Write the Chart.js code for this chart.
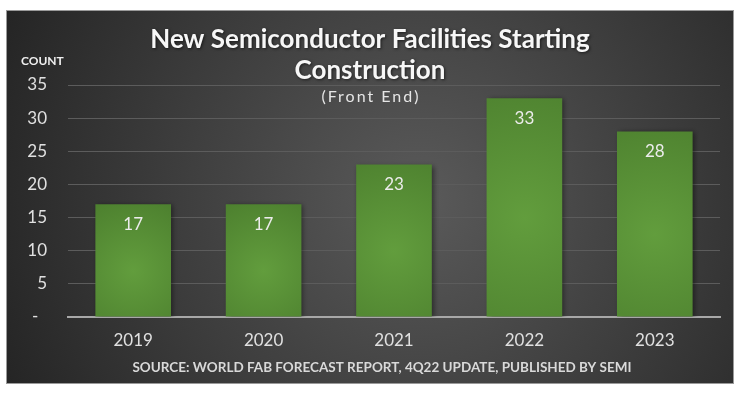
<!DOCTYPE html>
<html>
<head>
<meta charset="utf-8">
<title>New Semiconductor Facilities Starting Construction</title>
<script src="https://cdn.jsdelivr.net/npm/chart.js@4"></script>
<style>
    html, body { margin: 0; padding: 0; background: #fff; }
    canvas { display: block; }
</style>
</head>
<body>
<canvas id="myChart" width="740" height="397"></canvas>
<script>
// Datos del grafico
const years = ['2019', '2020', '2021', '2022', '2023'];
const counts = [17, 17, 23, 33, 28];
const yMax = 35;
const yStep = 5;

// Textos
const titleLines = ['New Semiconductor Facilities Starting', 'Construction'];
const subtitleText = '(Front End)';
const axisLabel = 'COUNT';
const sourceText = 'SOURCE: WORLD FAB FORECAST REPORT, 4Q22 UPDATE, PUBLISHED BY SEMI';

const fontFamily = 'Lato, "Open Sans", sans-serif';
const ctx = document.getElementById('myChart');

// Fondo oscuro con degradado radial
const panelBackground = {
    id: 'panelBackground',
    beforeDraw: (chart) => {
        const c = chart.ctx;
        c.save();
        c.fillStyle = '#fff';
        c.fillRect(0, 0, chart.width, chart.height);
        const g = c.createRadialGradient(420, 200, 0, 420, 200, 460);
        g.addColorStop(0, '#5a5a5a');
        g.addColorStop(1, '#242424');
        c.fillStyle = g;
        c.fillRect(7, 11, 726, 372);
        c.strokeStyle = '#9a9a9a';
        c.lineWidth = 1;
        c.strokeRect(6.5, 10.5, 727, 373);
        c.restore();
    }
};

// Sombra de las barras
const barShadow = {
    id: 'barShadow',
    beforeDatasetsDraw: (chart) => {
        const c = chart.ctx;
        c.save();
        c.shadowColor = 'rgba(0,0,0,0.45)';
        c.shadowBlur = 5;
        c.shadowOffsetX = 2;
        c.shadowOffsetY = 1;
    },
    afterDatasetsDraw: (chart) => {
        chart.ctx.restore();
    }
};

// Titulos, etiquetas y fuente
const annotations = {
    id: 'annotations',
    afterDraw: (chart) => {
        const c = chart.ctx;
        c.save();
        c.textAlign = 'center';
        c.textBaseline = 'middle';

        // etiquetas de valores
        const meta = chart.getDatasetMeta(0);
        c.fillStyle = '#ececec';
        c.font = `17px ${fontFamily}`;
        meta.data.forEach((bar, i) => {
            c.fillText(String(counts[i]), bar.x, bar.y + 20);
        });

        // titulo
        c.shadowColor = 'rgba(0,0,0,0.6)';
        c.shadowBlur = 3;
        c.shadowOffsetX = 1;
        c.shadowOffsetY = 1;
        c.fillStyle = '#f7f7f7';
        c.font = `bold 26px ${fontFamily}`;
        titleLines.forEach((line, i) => c.fillText(line, 370, 40 + i * 31));
        c.shadowColor = 'transparent';

        c.font = `16px ${fontFamily}`;
        c.letterSpacing = '2px';
        c.fillStyle = '#e6e6e6';
        c.fillText(subtitleText, 371, 97);
        c.letterSpacing = '0px';

        c.textAlign = 'left';
        c.font = `bold 12px ${fontFamily}`;
        c.fillStyle = '#f0f0f0';
        c.fillText(axisLabel, 21, 61);

        c.textAlign = 'center';
        c.font = `bold 13.5px ${fontFamily}`;
        c.fillStyle = '#d9d9d9';
        c.fillText(sourceText, 382, 368);
        c.restore();
    }
};

const barColor = (context) => {
    const chart = context.chart;
    const { x, y } = chart.scales;
    if (!chart.chartArea || context.dataIndex === undefined || !x || !y) return '#5a9339';
    const cx = x.getPixelForValue(context.dataIndex);
    const top = y.getPixelForValue(counts[context.dataIndex]);
    const bottom = y.getPixelForValue(0);
    const cy = (top + bottom) / 2 + 10;
    const g = chart.ctx.createRadialGradient(cx, cy, 0, cx, cy, Math.max(50, (bottom - top) * 0.7));
    g.addColorStop(0, '#629d3d');
    g.addColorStop(1, '#4c7f2e');
    return g;
};

const myChart = new Chart(ctx, {
    type: 'bar',
    data: {
        labels: years,
        datasets: [{
            data: counts,
            backgroundColor: barColor,
            borderWidth: 0,
            barPercentage: 0.58,
            categoryPercentage: 1
        }]
    },
    options: {
        responsive: false,
        animation: false,
        layout: {
            padding: { top: 85, left: 10, right: 20, bottom: 40 }
        },
        plugins: {
            legend: { display: false },
            tooltip: { enabled: false }
        },
        scales: {
            x: {
                z: 1,
                grid: { color: 'transparent', drawTicks: false },
                border: { display: true, color: '#a8a8a8', width: 2 },
                ticks: {
                    color: '#e0e0e0',
                    padding: 13,
                    font: { family: fontFamily, size: 17 }
                },
                afterFit: (scale) => { scale.height = 40; }
            },
            y: {
                min: 0,
                max: yMax,
                grid: {
                    drawTicks: false,
                    color: (c) => c.tick && c.tick.value === 0 ? 'transparent' : '#5c5c5c',
                    lineWidth: 1
                },
                border: { display: false },
                ticks: {
                    stepSize: yStep,
                    color: '#e0e0e0',
                    padding: 21,
                    font: { family: fontFamily, size: 17 },
                    callback: (v) => v === 0 ? '-  ' : v
                },
                afterFit: (scale) => { scale.width = 58; }
            }
        }
    },
    plugins: [panelBackground, barShadow, annotations]
});
</script>
</body>
</html>
